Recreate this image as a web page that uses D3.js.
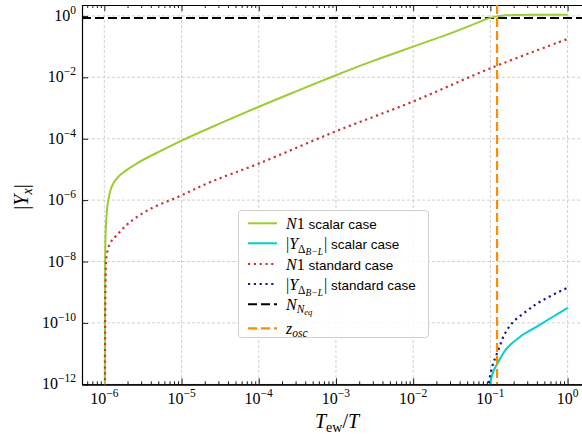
<!DOCTYPE html>
<html>
<head>
<meta charset="utf-8">
<script src="https://cdn.jsdelivr.net/npm/d3@7"></script>
<style>
body { margin: 0; background: #fff; }
</style>
</head>
<body>
<script>
// values
var n1ScalarX = [1.018e-6, 1.023e-6, 1.035e-6, 1.074e-6, 1.127e-6, 1.247e-6, 1.514e-6, 2.75e-6, 5.55e-6, 1e-5, 3.16e-5, 1e-4, 3.16e-4, 1e-3, 3.16e-3, 1e-2, 2e-2, 3.16e-2, 5e-2, 7.1e-2, 8.9e-2, 0.112, 0.141, 0.2, 0.4, 1.0];
var n1ScalarY = [1e-13, 1e-9, 6e-8, 3.7e-7, 1e-6, 2.75e-6, 5.75e-6, 1.66e-5, 4.17e-5, 8.7e-5, 3.16e-4, 1.1e-3, 3.63e-3, 1.17e-2, 3.55e-2, 0.1, 0.186, 0.28, 0.44, 0.63, 0.79, 0.93, 1.02, 1.08, 1.1, 1.1];

var yblScalarX = [0.0885, 0.109, 0.127, 0.163, 0.243, 0.399, 1.0];
var yblScalarY = [3e-13, 2.57e-12, 5.5e-12, 1.48e-11, 3.55e-11, 7.6e-11, 3.1e-10];

var n1StandardX = [1.02e-6, 1.025e-6, 1.04e-6, 1.07e-6, 1.186e-6, 1.45e-6, 2.05e-6, 3.72e-6, 9.1e-6, 2.45e-5, 1.02e-4, 9.7e-4, 9.9e-3, 9.9e-2, 1.0];
var n1StandardY = [1e-13, 1e-10, 3e-9, 1.5e-8, 3.9e-8, 7.2e-8, 1.74e-7, 4.8e-7, 1.29e-6, 4e-6, 1.58e-5, 1.7e-4, 1.62e-3, 1.95e-2, 0.178];

var yblStandardX = [0.0885, 0.104, 0.127, 0.155, 0.199, 0.296, 0.44, 1.0];
var yblStandardY = [3e-13, 3.3e-12, 1.32e-11, 4.6e-11, 1.1e-10, 2.45e-10, 4.9e-10, 1.41e-9];

var nEq = 0.86;
var zOsc = 0.122;

var xMajorTicks = [1e-6, 1e-5, 1e-4, 1e-3, 1e-2, 1e-1, 1e0];
var xTickExps = ["\u22126", "\u22125", "\u22124", "\u22123", "\u22122", "\u22121", "0"];
var yMajorTicks = [1e-12, 1e-10, 1e-8, 1e-6, 1e-4, 1e-2, 1e0];
var yTickExps = ["\u221212", "\u221210", "\u22128", "\u22126", "\u22124", "\u22122", "0"];

var legendLabels = ["N1 scalar case", "|Y_{\u0394B\u2212L}| scalar case", "N1 standard case",
    "|Y_{\u0394B\u2212L}| standard case", "N_{N_eq}", "z_osc"];

(function () {
    var width = 582, height = 436;
    var plotLeft = 82, plotRight = 590, plotTop = 5, plotBottom = 384.3;
    var serif = "'Liberation Serif', 'DejaVu Serif', serif";
    var sans = "'Liberation Sans', 'DejaVu Sans', sans-serif";

    var svg = d3.select("body").append("svg")
        .attr("width", width).attr("height", height)
        .style("display", "block");

    var x = d3.scaleLog().domain([5.14e-7, 1.95]).range([plotLeft, plotRight]);
    var y = d3.scaleLog().domain([1e-12, 2.27]).range([plotBottom, plotTop]);

    svg.append("clipPath").attr("id", "plotclip")
        .append("rect").attr("x", plotLeft).attr("y", plotTop)
        .attr("width", plotRight - plotLeft).attr("height", plotBottom - plotTop);

    // minor ticks
    var xMinor = [];
    for (var e = -7; e <= 0; e++) {
        for (var m = 2; m <= 9; m++) {
            var v = m * Math.pow(10, e);
            if (v > x.domain()[0] && v < x.domain()[1]) xMinor.push(v);
        }
    }

    // grid
    var grid = svg.append("g").attr("stroke", "#c4c4c4").attr("stroke-width", 0.8)
        .attr("stroke-dasharray", "3,2");
    grid.selectAll("line.gx").data(xMajorTicks).enter().append("line")
        .attr("x1", function (d) { return x(d); }).attr("x2", function (d) { return x(d); })
        .attr("y1", plotTop).attr("y2", plotBottom);
    grid.selectAll("line.gy").data(yMajorTicks).enter().append("line")
        .attr("y1", function (d) { return y(d); }).attr("y2", function (d) { return y(d); })
        .attr("x1", plotLeft).attr("x2", plotRight);

    // axes (ticks pointing inward)
    function styleAxis(g) {
        g.selectAll("text").remove();
        g.select(".domain").attr("stroke", "#000").attr("stroke-width", 1.2);
        g.selectAll(".tick line").attr("stroke", "#000").attr("stroke-width", 0.9);
    }
    svg.append("g").attr("transform", "translate(0," + plotBottom + ")")
        .call(d3.axisBottom(x).tickValues(xMinor).tickSizeInner(-3).tickSizeOuter(0)).call(styleAxis);
    svg.append("g").attr("transform", "translate(0," + plotBottom + ")")
        .call(d3.axisBottom(x).tickValues(xMajorTicks).tickSizeInner(-6).tickSizeOuter(0)).call(styleAxis);
    svg.append("g").attr("transform", "translate(0," + plotTop + ")")
        .call(d3.axisTop(x).tickValues(xMinor).tickSizeInner(-3).tickSizeOuter(0)).call(styleAxis);
    svg.append("g").attr("transform", "translate(0," + plotTop + ")")
        .call(d3.axisTop(x).tickValues(xMajorTicks).tickSizeInner(-6).tickSizeOuter(0)).call(styleAxis);
    svg.append("g").attr("transform", "translate(" + plotLeft + ",0)")
        .call(d3.axisLeft(y).tickValues(yMajorTicks).tickSizeInner(-6).tickSizeOuter(0)).call(styleAxis);

    // tick labels
    var xl = svg.selectAll("text.xt").data(xMajorTicks).enter().append("text")
        .attr("x", function (d) { return x(d); }).attr("y", 404)
        .attr("text-anchor", "middle").attr("font-family", serif).attr("font-size", 16);
    xl.append("tspan").text("10");
    xl.append("tspan").attr("dy", -7).attr("font-size", 11.5).text(function (d, i) { return xTickExps[i]; });

    var yl = svg.selectAll("text.yt").data(yMajorTicks).enter().append("text")
        .attr("x", 76).attr("y", function (d) { return y(d) + 5; })
        .attr("text-anchor", "end").attr("font-family", serif).attr("font-size", 16);
    yl.append("tspan").text("10");
    yl.append("tspan").attr("dy", -7).attr("font-size", 11.5).text(function (d, i) { return yTickExps[i]; });

    // axis labels
    var xlab = svg.append("text").attr("x", 337).attr("y", 428).attr("text-anchor", "middle")
        .attr("font-family", serif).attr("font-size", 20);
    xlab.append("tspan").attr("font-style", "italic").text("T");
    xlab.append("tspan").attr("dy", 4).attr("font-size", 14).text("ew");
    xlab.append("tspan").attr("dy", -4).text("/");
    xlab.append("tspan").attr("font-style", "italic").text("T");

    var ylab = svg.append("text").attr("transform", "translate(28,197) rotate(-90)")
        .attr("text-anchor", "middle").attr("font-family", serif).attr("font-size", 20);
    ylab.append("tspan").text("|");
    ylab.append("tspan").attr("font-style", "italic").text("Y");
    ylab.append("tspan").attr("dy", 4).attr("font-size", 14).attr("font-style", "italic").text("x");
    ylab.append("tspan").attr("dy", -4).text("|");

    // curves
    var plot = svg.append("g").attr("clip-path", "url(#plotclip)");
    function zipXY(xs, ys) { return xs.map(function (d, i) { return [d, ys[i]]; }); }
    var line = d3.line().x(function (d) { return x(d[0]); }).y(function (d) { return y(d[1]); })
        .curve(d3.curveCatmullRom.alpha(0.5));

    var styles = [
        { color: "#9acd32", width: 2, dash: null },
        { color: "#00ced1", width: 2, dash: null },
        { color: "#c83737", width: 2.2, dash: "2.2,3.6" },
        { color: "#1a1a8c", width: 2.2, dash: "2.2,3.6" },
        { color: "#000", width: 2, dash: "9,4" },
        { color: "#ff8c00", width: 2.2, dash: "9,4" }
    ];

    plot.append("line").attr("x1", plotLeft).attr("x2", plotRight)
        .attr("y1", y(nEq)).attr("y2", y(nEq))
        .attr("stroke", styles[4].color).attr("stroke-width", styles[4].width)
        .attr("stroke-dasharray", styles[4].dash);

    var series = [
        zipXY(n1ScalarX, n1ScalarY), zipXY(yblScalarX, yblScalarY),
        zipXY(n1StandardX, n1StandardY), zipXY(yblStandardX, yblStandardY)
    ];
    series.forEach(function (s, i) {
        plot.append("path").datum(s)
            .attr("d", line)
            .attr("fill", "none").attr("stroke", styles[i].color)
            .attr("stroke-width", styles[i].width)
            .attr("stroke-dasharray", styles[i].dash);
    });

    plot.append("line").attr("x1", x(zOsc)).attr("x2", x(zOsc))
        .attr("y1", plotTop).attr("y2", plotBottom)
        .attr("stroke", styles[5].color).attr("stroke-width", styles[5].width)
        .attr("stroke-dasharray", styles[5].dash);

    // legend
    var lg = svg.append("g");
    lg.append("rect").attr("x", 238.5).attr("y", 210.5).attr("width", 190).attr("height", 127)
        .attr("rx", 3).attr("fill", "#fff").attr("fill-opacity", 0.85)
        .attr("stroke", "#d0d0d0").attr("stroke-width", 1);
    var rowY = [223.3, 243.3, 264, 284, 304.3, 328.3];
    legendLabels.forEach(function (lab, i) {
        lg.append("line").attr("x1", 248).attr("x2", 277).attr("y1", rowY[i]).attr("y2", rowY[i])
            .attr("stroke", styles[i].color).attr("stroke-width", styles[i].width)
            .attr("stroke-dasharray", styles[i].dash);
        var t = lg.append("text").attr("x", 286).attr("y", rowY[i] + 5.5)
            .attr("font-family", serif).attr("font-size", 16);
        if (i === 0 || i === 2) {
            t.append("tspan").attr("font-style", "italic").text("N");
            t.append("tspan").text("1");
            t.append("tspan").attr("font-family", sans).attr("font-size", 13.5)
                .text(i === 0 ? " scalar case" : " standard case");
        } else if (i === 1 || i === 3) {
            t.append("tspan").text("|");
            t.append("tspan").attr("font-style", "italic").text("Y");
            t.append("tspan").attr("dy", 4).attr("font-size", 11.5).text("\u0394");
            t.append("tspan").attr("dy", 2).attr("font-size", 9.5).attr("font-style", "italic").text("B\u2212L");
            t.append("tspan").attr("dy", -6).attr("dx", 1).text("|");
            t.append("tspan").attr("font-family", sans).attr("font-size", 13.5)
                .text(i === 1 ? " scalar case" : " standard case");
        } else if (i === 4) {
            t.append("tspan").attr("font-style", "italic").text("N");
            t.append("tspan").attr("dy", 3).attr("font-size", 11.5).attr("font-style", "italic").text("N");
            t.append("tspan").attr("dy", 2).attr("font-size", 8.5).attr("font-style", "italic").text("eq");
        } else {
            t.append("tspan").attr("font-style", "italic").text("z");
            t.append("tspan").attr("dy", 3).attr("font-size", 11.5).attr("font-style", "italic").text("osc");
        }
    });
})();
</script>
</body>
</html>
